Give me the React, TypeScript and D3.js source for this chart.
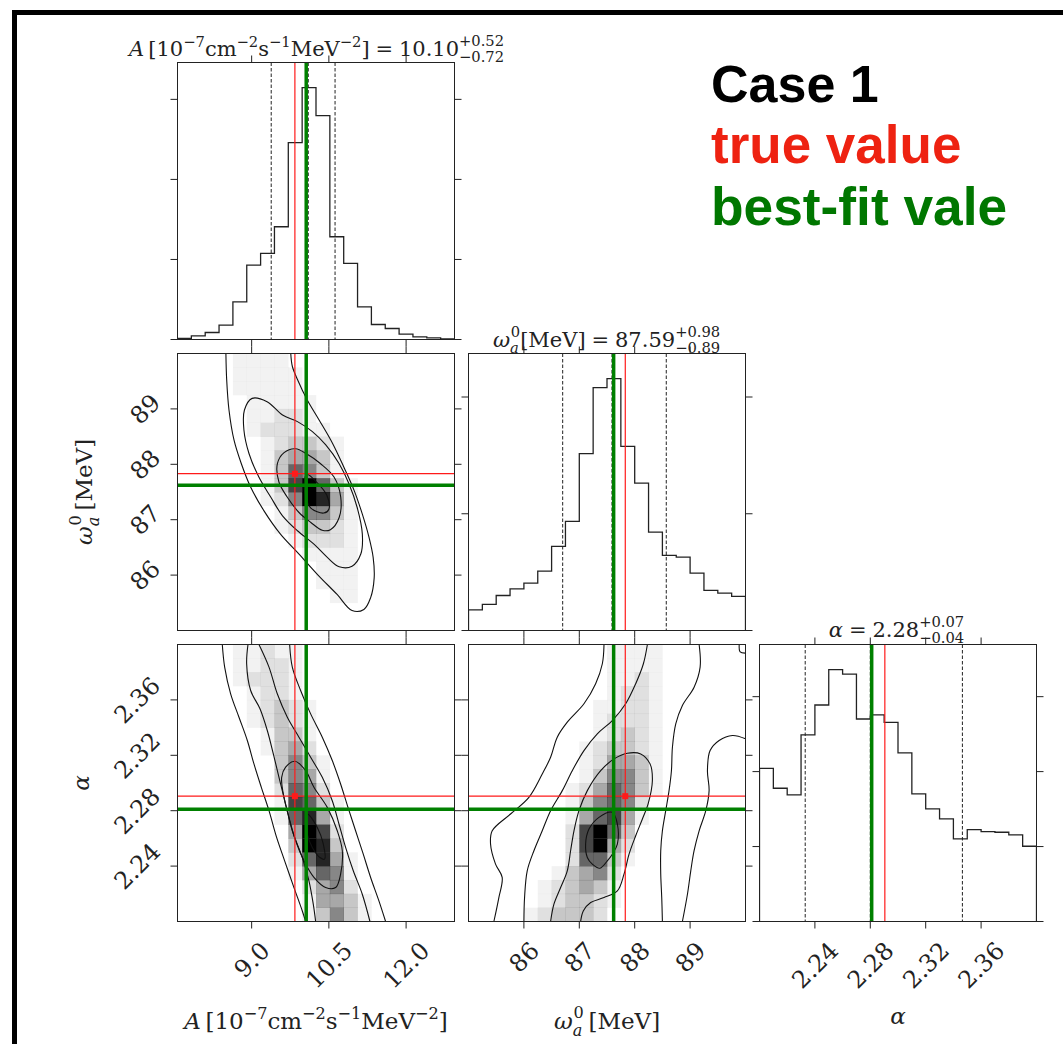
import React from 'react';
import * as d3 from 'd3';

// ---------------- data ----------------
const rangeA = [7.56, 12.94];
const rangeW = [85.0, 90.0];
const rangeAl = [2.2, 2.4];
const ticksA = [9.0, 10.5, 12.0];
const ticksW = [86, 87, 88, 89];
const ticksAl = [2.24, 2.28, 2.32, 2.36];
const tickLabelsA = ['9.0', '10.5', '12.0'];
const tickLabelsW = ['86', '87', '88', '89'];
const tickLabelsAl = ['2.24', '2.28', '2.32', '2.36'];

const truthValues = [9.84, 87.83, 2.2905];
const bestFitValues = [10.06, 87.62, 2.281];
const quantilesA = [9.38, 10.1, 10.62];
const quantilesW = [86.7, 87.59, 88.57];
const quantilesAl = [2.233, 2.28, 2.3465];

const titleValues = ['10.10', '87.59', '2.28'];
const titlePlus = ['+0.52', '+0.98', '+0.07'];
const titleMinus = ['−0.72', '−0.89', '−0.04'];

const histA = [25, 92, 175, 358, 942, 1858, 2150, 2817, 4917, 6292, 5592, 2567, 1900, 817, 375, 275, 133, 67, 42, 17];
const histW = [354, 446, 600, 714, 811, 1017, 1440, 1869, 3029, 4160, 4314, 3154, 2526, 1686, 1286, 1257, 983, 686, 640, 583];
const histAl = [2044, 1778, 1689, 2489, 2889, 3360, 3302, 2702, 2756, 2658, 2249, 1702, 1502, 1369, 1102, 1227, 1200, 1191, 1156, 1004];
const countTicksA = [0, 2000, 4000, 6000];
const countTicksW = [0, 2000, 4000];
const countTicksAl = [0, 1000, 2000, 3000];

// 2D histogram darkness levels (0 white .. 9 black), rows from top (high y) to bottom
const densityAW = [
  '00001111000000000000',
  '00001111100000000000',
  '00001111100000000000',
  '00000111110000000000',
  '00000112210000000000',
  '00000122211000000000',
  '00000012332100000000',
  '00000013443100000000',
  '00000013653100000000',
  '00000013796310000000',
  '00000012598410000000',
  '00000001355310000000',
  '00000001233210000000',
  '00000000122210000000',
  '00000000011110000000',
  '00000000001110000000',
  '00000000001110000000',
  '00000000000110000000',
  '00000000000000000000',
  '00000000000000000000',
];
const densityAAl = [
  '00001121100000000000',
  '00001122100000000000',
  '00001222100000000000',
  '00000122100000000000',
  '00000123210000000000',
  '00000123210000000000',
  '00000013310000000000',
  '00000013420000000000',
  '00000003531000000000',
  '00000003541000000000',
  '00000002652000000000',
  '00000001763100000000',
  '00000001684100000000',
  '00000000497200000000',
  '00000000398300000000',
  '00000000268410000000',
  '00000000146510000000',
  '00000000024520000000',
  '00000000014431000000',
  '00000000013531000000',
];
const densityWAl = [
  '00000000001111000000',
  '00000000001111000000',
  '00000000001121000000',
  '00000000001221000000',
  '00000000011221000000',
  '00000000012221000000',
  '00000000012321000000',
  '00000000123321000000',
  '00000000124431000000',
  '00000000135531000000',
  '00000001246531000000',
  '00000001356520000000',
  '00000001467410000000',
  '00000002796300000000',
  '00000002794200000000',
  '00000002663100000000',
  '00000013452000000000',
  '00000123431000000000',
  '00000123321000000000',
  '00001233320000000000',
];

// contour lines (data coordinates)
const contourAW_2s = [[8.5, 90.0], [8.515, 89.53], [8.56, 88.98], [8.657, 88.44], [8.8, 88.01], [8.98, 87.59], [9.24, 87.16], [9.56, 86.74], [9.92, 86.38], [10.28, 86.01], [10.66, 85.65], [10.95, 85.36], [11.18, 85.38], [11.31, 85.59], [11.38, 85.95], [11.36, 86.32], [11.28, 86.68], [11.15, 87.1], [10.99, 87.53], [10.79, 87.95], [10.57, 88.38], [10.31, 88.8], [10.08, 89.16], [9.89, 89.53], [9.79, 89.77], [9.76, 90.0]];
const contourAW_15s = [[9.01, 89.19], [9.3, 89.13], [9.6, 88.89], [9.89, 88.77], [10.18, 88.59], [10.44, 88.35], [10.7, 88.01], [10.89, 87.65], [11.05, 87.22], [11.15, 86.74], [11.12, 86.38], [10.95, 86.16], [10.7, 86.15], [10.47, 86.32], [10.21, 86.56], [9.89, 86.8], [9.6, 87.07], [9.37, 87.41], [9.14, 87.77], [8.95, 88.19], [8.85, 88.62], [8.86, 88.98]];
const contourAW_1s = [[9.85, 88.28], [10.08, 88.18], [10.34, 88.01], [10.6, 87.77], [10.73, 87.41], [10.7, 87.04], [10.53, 86.82], [10.37, 86.81], [10.15, 86.95], [9.92, 87.13], [9.69, 87.41], [9.53, 87.68], [9.5, 88.01], [9.63, 88.21]];
const contourAW_05s = [[10.07, 87.82], [10.28, 87.66], [10.46, 87.44], [10.5, 87.19], [10.4, 87.12], [10.15, 87.21], [10.05, 87.41], [10.02, 87.65]];

const contourAAl_2sL = [[8.43, 2.4], [8.476, 2.3837], [8.592, 2.3644], [8.754, 2.3475], [8.916, 2.3307], [9.045, 2.3138], [9.188, 2.2969], [9.337, 2.28], [9.485, 2.2607], [9.641, 2.2438], [9.822, 2.2245], [9.984, 2.2076], [10.049, 2.2]];
const contourAAl_2sR = [[9.738, 2.4], [9.79, 2.3837], [9.951, 2.3668], [10.146, 2.3499], [10.372, 2.3331], [10.566, 2.3162], [10.728, 2.2993], [10.871, 2.2824], [11.019, 2.2655], [11.168, 2.2486], [11.311, 2.2318], [11.472, 2.2149], [11.602, 2.2]];
const contourAAl_15sL = [[8.929, 2.4], [8.903, 2.3861], [8.981, 2.3668], [9.162, 2.3536], [9.304, 2.3379], [9.421, 2.321], [9.531, 2.3041], [9.66, 2.2848], [9.79, 2.2655], [9.984, 2.2462], [10.113, 2.2294], [10.197, 2.2125], [10.243, 2.2]];
const contourAAl_15sR = [[9.142, 2.4], [9.337, 2.3837], [9.498, 2.3644], [9.693, 2.3475], [9.919, 2.3331], [10.146, 2.3186], [10.372, 2.3041], [10.566, 2.2872], [10.696, 2.2704], [10.825, 2.2535], [10.974, 2.2366], [11.149, 2.2197], [11.298, 2.2]];
const contourAAl_1s = [[9.841, 2.3157], [10.049, 2.3089], [10.21, 2.2969], [10.469, 2.2824], [10.663, 2.2655], [10.761, 2.2511], [10.728, 2.2342], [10.631, 2.2245], [10.437, 2.2245], [10.21, 2.2318], [10.016, 2.2438], [9.854, 2.2583], [9.725, 2.2752], [9.628, 2.2896], [9.583, 2.3041], [9.66, 2.3114]];
const contourAAl_05s = [[10.081, 2.2776], [10.275, 2.2679], [10.392, 2.2559], [10.417, 2.245], [10.327, 2.2462], [10.178, 2.2535], [10.081, 2.2631], [10.049, 2.2728]];

const contourWAl_2sL = [[87.446, 2.4], [87.416, 2.3861], [87.295, 2.3717], [87.084, 2.3572], [86.783, 2.3439], [86.602, 2.3331], [86.482, 2.3186], [86.331, 2.3065], [86.09, 2.2896], [85.759, 2.2776], [85.428, 2.2655], [85.398, 2.2559], [85.488, 2.2414], [85.608, 2.2318], [85.548, 2.2173], [85.458, 2.2]];
const contourWAl_2sR = [[90.0, 2.3319], [89.765, 2.3343], [89.524, 2.3307], [89.361, 2.3234], [89.313, 2.3089], [89.343, 2.2945], [89.283, 2.28], [89.163, 2.2655], [89.072, 2.2511], [89.012, 2.2366], [88.952, 2.2197], [88.861, 2.2]];
const contourWAl_corner = [[89.886, 2.4], [89.904, 2.3946], [90.0, 2.3938]];
const contourWAl_15sL = [[88.229, 2.4], [88.157, 2.3861], [88.018, 2.3717], [87.837, 2.3572], [87.596, 2.3451], [87.325, 2.3355], [87.084, 2.3234], [86.873, 2.3089], [86.693, 2.2945], [86.482, 2.28], [86.331, 2.2655], [86.181, 2.2511], [86.06, 2.2366], [86.012, 2.2173], [86.0, 2.2]];
const contourWAl_15sR = [[89.163, 2.4], [89.181, 2.3837], [89.072, 2.3692], [88.861, 2.356], [88.741, 2.3427], [88.681, 2.3258], [88.663, 2.3089], [88.62, 2.2945], [88.56, 2.28], [88.5, 2.2655], [88.47, 2.2511], [88.47, 2.2342], [88.488, 2.2173], [88.5, 2.2]];
const contourWAl_1s = [[86.482, 2.2], [86.542, 2.2125], [86.663, 2.2245], [86.783, 2.2366], [86.843, 2.2511], [86.904, 2.2655], [86.994, 2.28], [87.145, 2.2945], [87.386, 2.3089], [87.627, 2.3174], [87.867, 2.3215], [88.108, 2.321], [88.277, 2.3138], [88.319, 2.3017], [88.241, 2.2848], [88.139, 2.274], [88.018, 2.2619], [87.898, 2.2486], [87.807, 2.2342], [87.687, 2.2221], [87.446, 2.2173], [87.205, 2.2137], [87.072, 2.2076], [87.024, 2.2]];
const contourWAl_05s = [[87.114, 2.2559], [87.175, 2.2667], [87.355, 2.2752], [87.596, 2.2788], [87.687, 2.2704], [87.687, 2.2559], [87.596, 2.2486], [87.506, 2.2438], [87.373, 2.2385], [87.235, 2.2414], [87.145, 2.2462]];

const legendLines = ['Case 1', 'true value', 'best-fit vale'];
const legendColors = ['#000000', '#ee2211', '#007700'];

// ---------------- layout helpers ----------------
const S = 277, G = 14, X0 = 177.5, Y0 = 62.5, TL = 7;
const colX = (c: number) => X0 + c * (S + G);
const rowY = (r: number) => Y0 + r * (S + G);
const SERIF = "'DejaVu Serif', serif";
const TXT = '#222';
const RED = '#ff1a1a';
const GREEN = '#008000';
const levelOpacity = [0, 0.05, 0.12, 0.22, 0.34, 0.47, 0.6, 0.73, 0.86, 1];

let _ctx: any = null;
function measure(text: string, size: number, italic = false, family = 'DejaVu Serif', weight = 'normal') {
  if (!_ctx) _ctx = document.createElement('canvas').getContext('2d');
  _ctx.font = `${italic ? 'italic ' : ''}${weight} ${size}px "${family}"`;
  return _ctx.measureText(text).width;
}

type MItem = { t: string; it?: boolean; sup?: string; sub?: string; subIt?: boolean; pad?: number };

function layoutMath(items: MItem[], size: number) {
  const els: { x: number; y: number; text: string; size: number; it: boolean }[] = [];
  let x = 0;
  const ss = size * 0.7;
  for (const m of items) {
    if (m.t) {
      els.push({ x, y: 0, text: m.t, size, it: !!m.it });
      x += measure(m.t, size, !!m.it);
    }
    let sw = 0;
    const both = !!(m.sup && m.sub);
    if (m.sup) {
      els.push({ x: x + (m.it ? size * 0.04 : 0), y: -size * (both ? 0.46 : 0.42), text: m.sup, size: ss, it: false });
      sw = Math.max(sw, measure(m.sup, ss) + (m.it ? size * 0.04 : 0));
    }
    if (m.sub) {
      els.push({ x, y: size * 0.3, text: m.sub, size: ss, it: !!m.subIt });
      sw = Math.max(sw, measure(m.sub, ss, !!m.subIt));
    }
    x += sw;
    if (m.pad) x += m.pad * size;
  }
  return { els, width: x };
}

function MathText({ items, size, x, y, rotate = 0 }: { items: MItem[]; size: number; x: number; y: number; rotate?: number }) {
  const { els, width } = layoutMath(items, size);
  return (
    <g transform={`translate(${x},${y}) rotate(${rotate})`}>
      {els.map((e, i) => (
        <text key={i} x={e.x - width / 2} y={e.y} fontSize={e.size} fontStyle={e.it ? 'italic' : 'normal'} fill={TXT} fontFamily={SERIF}>
          {e.text}
        </text>
      ))}
    </g>
  );
}

export default function App() {
  const ranges = [rangeA, rangeW, rangeAl];
  const tickVals = [ticksA, ticksW, ticksAl];
  const tickLbls = [tickLabelsA, tickLabelsW, tickLabelsAl];
  const hists = [histA, histW, histAl];
  const countTicks = [countTicksA, countTicksW, countTicksAl];
  const quants = [quantilesA, quantilesW, quantilesAl];
  const xs = ranges.map((rg, c) => d3.scaleLinear().domain(rg).range([colX(c), colX(c) + S]));
  const ys = ranges.map((rg, r) => d3.scaleLinear().domain(rg).range([rowY(r) + S, rowY(r)]));

  const labelItems: MItem[][] = [
    [{ t: 'A', it: true, pad: 0.2 }, { t: '[10', sup: '−7' }, { t: 'cm', sup: '−2' }, { t: 's', sup: '−1' }, { t: 'MeV', sup: '−2' }, { t: ']' }],
    [{ t: 'ω', it: true, sup: '0', sub: 'a', subIt: true, pad: 0.2 }, { t: '[MeV]' }],
    [{ t: 'α', it: true }],
  ];
  const titleHeads: MItem[][] = [
    [{ t: 'A', it: true, pad: 0.2 }, { t: '[10', sup: '−7' }, { t: 'cm', sup: '−2' }, { t: 's', sup: '−1' }, { t: 'MeV', sup: '−2' }, { t: ']', pad: 0.28 }],
    [{ t: 'ω', it: true, sup: '0', sub: 'a', subIt: true }, { t: '[MeV]', pad: 0.28 }],
    [{ t: 'α', it: true, pad: 0.28 }],
  ];
  const titleItems = titleHeads.map((h, k) => [...h, { t: '=', pad: 0.28 }, { t: titleValues[k], sup: titlePlus[k], sub: titleMinus[k] }]);
  const titlePos = [[316.5, 55.5], [606.5, 346.5], [896.5, 636.7]];
  const xLabelPos = [[316, 1029], [607, 1029], [898, 1024]];
  const yLabelPos = [null, [92, 492], [89, 783]];

  const tickPath = (x0: number, y0: number, xt: number[], yt: number[]) => {
    let p = '';
    xt.forEach((px) => { p += `M${px},${y0 + S}v${TL}M${px},${y0}v${-TL}`; });
    yt.forEach((py) => { p += `M${x0},${py}h${-TL}M${x0 + S},${py}h${TL}`; });
    return p;
  };

  const lineGen = (sx: any, sy: any, closed: boolean) =>
    d3.line<number[]>().x((d) => sx(d[0])).y((d) => sy(d[1])).curve(closed ? d3.curveCatmullRomClosed.alpha(0.5) : d3.curveCatmullRom.alpha(0.5));

  const panels2d = [
    { r: 1, c: 0, dens: densityAW, contours: [[contourAW_2s, false], [contourAW_15s, true], [contourAW_1s, true], [contourAW_05s, true]] },
    { r: 2, c: 0, dens: densityAAl, contours: [[contourAAl_2sL, false], [contourAAl_2sR, false], [contourAAl_15sL, false], [contourAAl_15sR, false], [contourAAl_1s, true], [contourAAl_05s, true]] },
    { r: 2, c: 1, dens: densityWAl, contours: [[contourWAl_2sL, false], [contourWAl_2sR, false], [contourWAl_corner, false], [contourWAl_15sL, false], [contourWAl_15sR, false], [contourWAl_1s, false], [contourWAl_05s, true]] },
  ];

  const TFS = 24; // tick label font size
  const tickLabelH = 0.73 * TFS;

  return (
    <svg width={1063} height={1044} style={{ position: 'absolute', left: 0, top: 0 }} fontFamily={SERIF}>
      <rect width={1063} height={1044} fill="#fff" />
      <defs>
        {[0, 1, 2].map((r) => [0, 1, 2].map((c) => (
          <clipPath key={`cp${r}${c}`} id={`clip${r}${c}`}>
            <rect x={colX(c)} y={rowY(r)} width={S} height={S} />
          </clipPath>
        )))}
      </defs>
      <path d="M14.5,1100 V12.5 H1100" fill="none" stroke="#000" strokeWidth={5} />

      {/* 1D histograms */}
      {[0, 1, 2].map((k) => {
        const x0 = colX(k), y0 = rowY(k);
        const rg = ranges[k];
        const h = hists[k];
        const hy = d3.scaleLinear().domain([0, 1.1 * (d3.max(h) as number)]).range([y0 + S, y0]);
        const edges = d3.range(21).map((i) => rg[0] + (i * (rg[1] - rg[0])) / 20);
        const pts: number[][] = [[edges[0], 0]];
        h.forEach((v, i) => { pts.push([edges[i], v]); pts.push([edges[i + 1], v]); });
        pts.push([edges[20], 0]);
        const ln = d3.line<number[]>().x((d) => xs[k](d[0])).y((d) => hy(d[1]));
        return (
          <g key={`h${k}`}>
            <g clipPath={`url(#clip${k}${k})`}>
              <path d={ln(pts) as string} fill="none" stroke="#222" strokeWidth={1.3} />
              {quants[k].map((q, i) => (
                <line key={i} x1={xs[k](q)} x2={xs[k](q)} y1={y0} y2={y0 + S} stroke="#222" strokeWidth={1} strokeDasharray="3.5,2" />
              ))}
              <line x1={xs[k](truthValues[k])} x2={xs[k](truthValues[k])} y1={y0} y2={y0 + S} stroke={RED} strokeWidth={1.2} />
              <line x1={xs[k](bestFitValues[k])} x2={xs[k](bestFitValues[k])} y1={y0} y2={y0 + S} stroke={GREEN} strokeWidth={3.5} />
            </g>
            <rect x={x0} y={y0} width={S} height={S} fill="none" stroke="#222" strokeWidth={1} />
            <path d={tickPath(x0, y0, tickVals[k].map((v) => xs[k](v)), countTicks[k].map((v) => hy(v)))} stroke="#222" strokeWidth={1} />
            <MathText items={titleItems[k]} size={21} x={titlePos[k][0]} y={titlePos[k][1]} />
          </g>
        );
      })}

      {/* 2D panels */}
      {panels2d.map(({ r, c, dens, contours }) => {
        const x0 = colX(c), y0 = rowY(r);
        const cw = S / 20;
        return (
          <g key={`p${r}${c}`}>
            <g clipPath={`url(#clip${r}${c})`}>
              {dens.map((row, j) =>
                row.split('').map((ch, i) => {
                  const lv = +ch;
                  if (!lv) return null;
                  return <rect key={`${i}-${j}`} x={x0 + i * cw} y={y0 + j * cw} width={cw + 0.3} height={cw + 0.3} fill="#000" fillOpacity={levelOpacity[lv]} />;
                })
              )}
              {contours.map(([pts, closed]: any, i: number) => (
                <path key={i} d={lineGen(xs[c], ys[r], closed)(pts) as string} fill="none" stroke="#111" strokeWidth={1.1} />
              ))}
              <line x1={xs[c](truthValues[c])} x2={xs[c](truthValues[c])} y1={y0} y2={y0 + S} stroke={RED} strokeWidth={1.2} />
              <line x1={x0} x2={x0 + S} y1={ys[r](truthValues[r])} y2={ys[r](truthValues[r])} stroke={RED} strokeWidth={1.2} />
              <rect x={xs[c](truthValues[c]) - 3} y={ys[r](truthValues[r]) - 3} width={6} height={6} fill={RED} />
              <line x1={xs[c](bestFitValues[c])} x2={xs[c](bestFitValues[c])} y1={y0} y2={y0 + S} stroke={GREEN} strokeWidth={3.5} />
              <line x1={x0} x2={x0 + S} y1={ys[r](bestFitValues[r])} y2={ys[r](bestFitValues[r])} stroke={GREEN} strokeWidth={3.5} />
            </g>
            <rect x={x0} y={y0} width={S} height={S} fill="none" stroke="#222" strokeWidth={1} />
            <path d={tickPath(x0, y0, tickVals[c].map((v) => xs[c](v)), tickVals[r].map((v) => ys[r](v)))} stroke="#222" strokeWidth={1} />
          </g>
        );
      })}

      {/* x tick labels */}
      {[0, 1, 2].map((c) =>
        tickVals[c].map((v, i) => {
          const w = measure(tickLbls[c][i], TFS);
          const d = (w + tickLabelH) / (2 * Math.SQRT2);
          const cx = xs[c](v), cy = 940 + d;
          return (
            <text key={`xt${c}${i}`} transform={`translate(${cx},${cy}) rotate(-45)`} textAnchor="middle" dy="0.36em" fontSize={TFS} fill={TXT}>
              {tickLbls[c][i]}
            </text>
          );
        })
      )}
      {/* y tick labels */}
      {[1, 2].map((r) =>
        tickVals[r].map((v, i) => {
          const w = measure(tickLbls[r][i], TFS);
          const d = (w + tickLabelH) / (2 * Math.SQRT2);
          const cx = 162 - d, cy = ys[r](v);
          return (
            <text key={`yt${r}${i}`} transform={`translate(${cx},${cy}) rotate(-45)`} textAnchor="middle" dy="0.36em" fontSize={TFS} fill={TXT}>
              {tickLbls[r][i]}
            </text>
          );
        })
      )}

      {/* axis labels */}
      {[0, 1, 2].map((k) => (
        <MathText key={`xl${k}`} items={labelItems[k]} size={23} x={xLabelPos[k][0]} y={xLabelPos[k][1]} />
      ))}
      {[1, 2].map((k) => (
        <MathText key={`yl${k}`} items={labelItems[k]} size={23} x={(yLabelPos[k] as number[])[0]} y={(yLabelPos[k] as number[])[1]} rotate={-90} />
      ))}

      {/* legend text */}
      {legendLines.map((t, i) => (
        <text key={`lg${i}`} x={711} y={[101.5, 162.5, 224.5][i]} fontFamily="'Liberation Sans', Arial, sans-serif" fontWeight="bold" fontSize={[52, 53, 53.3][i]} fill={legendColors[i]}>
          {t}
        </text>
      ))}
    </svg>
  );
}
